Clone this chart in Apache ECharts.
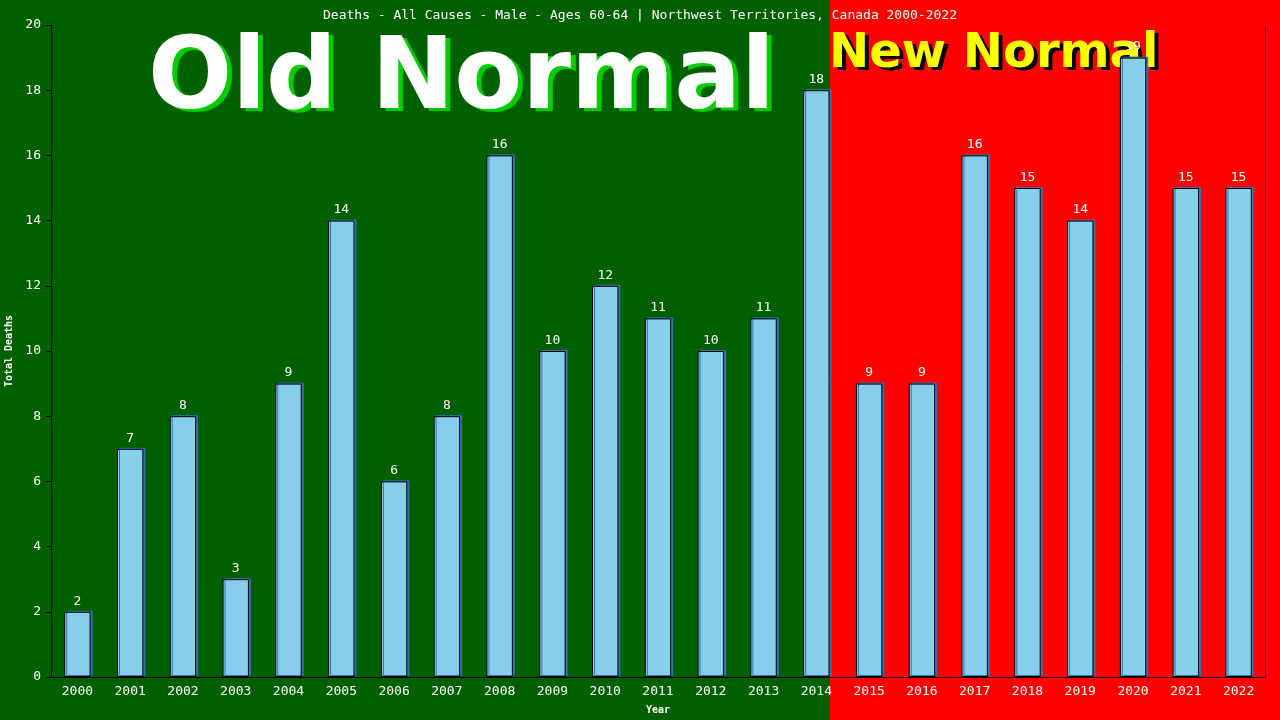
<!DOCTYPE html>
<html><head><meta charset="utf-8">
<script src="https://cdn.jsdelivr.net/npm/echarts@6/dist/echarts.min.js"></script>
<style>html,body{margin:0;padding:0;background:#006000}#c{width:1280px;height:720px}</style>
</head><body><div id="c"></div>
<script>
const years = ['2000','2001','2002','2003','2004','2005','2006','2007','2008','2009','2010','2011','2012','2013','2014','2015','2016','2017','2018','2019','2020','2021','2022'];
const deaths = [2,7,8,3,9,14,6,8,16,10,12,11,10,11,18,9,9,16,15,14,19,15,15];
const titleText = 'Deaths - All Causes - Male - Ages 60-64 | Northwest Territories, Canada 2000-2022';
const mono = '"DejaVu Sans Mono", "Liberation Mono", monospace';

const chart = echarts.init(document.getElementById('c'));
chart.setOption({
  backgroundColor: '#006000',
  animation: false,
  title: {
    text: titleText, left: 'center', top: 4,
    textStyle: { color: '#fff', fontFamily: mono, fontSize: 13, fontWeight: 'normal' }
  },
  grid: { left: 51, right: 15, top: 25, bottom: 43, containLabel: false, outerBoundsMode: 'none' },
  graphic: [
    { type: 'rect', z: -10, shape: { x: 830, y: 0, width: 450, height: 720 }, style: { fill: '#ff0000' } },
    { type: 'text', z: -5, left: 153, top: 36, style: { text: 'Old Normal', fill: '#00cc00', font: 'bold 99px "DejaVu Sans"' } },
    { type: 'text', z: -4, left: 148, top: 33, style: { text: 'Old Normal', fill: '#ffffff', font: 'bold 99px "DejaVu Sans"' } },
    { type: 'text', z: -5, left: 833, top: 34, style: { text: 'New Normal', fill: '#000000', font: 'bold 48px "DejaVu Sans"' } },
    { type: 'text', z: -4, left: 829, top: 31, style: { text: 'New Normal', fill: '#ffff00', font: 'bold 48px "DejaVu Sans"' } }
  ],
  xAxis: {
    type: 'category', data: years, name: 'Year', nameLocation: 'middle', nameGap: 28,
    nameTextStyle: { color: '#fff', fontFamily: mono, fontSize: 10, fontWeight: 'bold' },
    axisLine: { lineStyle: { color: '#000' } },
    axisTick: { show: false },
    axisLabel: { color: '#fff', fontFamily: mono, fontSize: 13, margin: 8 }
  },
  yAxis: [{
    type: 'value', min: 0, max: 20, interval: 2, name: 'Total Deaths', nameLocation: 'middle', nameGap: 34,
    nameTextStyle: { color: '#fff', fontFamily: mono, fontSize: 10, fontWeight: 'bold' },
    axisLine: { show: true, lineStyle: { color: '#000' } },
    axisTick: { show: true, length: 5, lineStyle: { color: '#000' } },
    axisLabel: { color: '#fff', fontFamily: mono, fontSize: 13, margin: 10 },
    splitLine: { show: false }
  }, {
    type: 'value', min: 0, max: 20, interval: 2, position: 'right',
    axisLine: { show: true, lineStyle: { color: '#000' } },
    axisTick: { show: false }, axisLabel: { show: false }, splitLine: { show: false }
  }],
  series: [{
    type: 'bar', data: deaths, barWidth: '50%', z: 5,
    itemStyle: { color: '#87ceeb', borderColor: '#000', borderWidth: 1,
      shadowColor: '#3a6fb0', shadowOffsetX: 2, shadowOffsetY: -1, shadowBlur: 0 },
    label: { show: true, position: 'top', distance: 4, color: '#fff', fontFamily: mono, fontSize: 13 }
  }]
});
</script></body></html>
